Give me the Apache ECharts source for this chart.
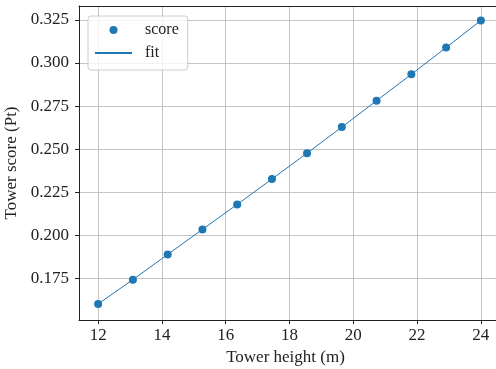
<!DOCTYPE html>
<html>
<head>
<meta charset="utf-8">
<title>tower score</title>
<script src="https://cdn.jsdelivr.net/npm/echarts@6/dist/echarts.min.js"></script>
<style>
  html, body { margin: 0; padding: 0; background: #fff; }
  #main { width: 496px; height: 369px; }
</style>
</head>
<body>
<div id="main"></div>
<script>
// tower heights (m) and scores
var heights = [12, 13.09, 14.18, 15.27, 16.36, 17.45, 18.55, 19.64, 20.73, 21.82, 22.91, 24];
var scores = [0.1603, 0.1744, 0.1890, 0.2035, 0.2180, 0.2327, 0.2477, 0.2628, 0.2781, 0.2934, 0.3089, 0.3246];
var fitValues = [0.1603, 0.1744, 0.1890, 0.2035, 0.2180, 0.2327, 0.2477, 0.2628, 0.2781, 0.2934, 0.3089, 0.3246];

var xTicks = [12, 14, 16, 18, 20, 22, 24];
var yTicks = [0.175, 0.200, 0.225, 0.250, 0.275, 0.300, 0.325];

var font = 'Liberation Serif';
var blue = '#1f77b4';

function pairs(xs, ys) {
  var out = [];
  for (var i = 0; i < xs.length; i++) out.push([xs[i], ys[i]]);
  return out;
}

var myChart = echarts.init(document.getElementById('main'));

var option = {
  animation: false,
  textStyle: { fontFamily: font },
  grid: {
    left: 79,
    right: -4,
    top: 6,
    bottom: 49,
    containLabel: false,
    outerBoundsMode: 'none'
  },
  legend: {
    orient: 'vertical',
    left: 88,
    top: 16,
    padding: [6, 9, 9, 6],
    itemWidth: 37,
    itemHeight: 8,
    itemGap: 7,
    backgroundColor: 'rgba(255,255,255,0.8)',
    borderColor: '#cccccc',
    borderWidth: 1,
    borderRadius: 3,
    textStyle: { fontFamily: font, fontSize: 16, lineHeight: 16, color: '#222', padding: [0, 0, 0, 8] },
    data: [
      { name: 'score', icon: 'circle' },
      { name: 'fit', itemStyle: { opacity: 0 } }
    ]
  },
  xAxis: [{
    type: 'value',
    min: 11.4,
    max: 24.6,
    name: 'Tower height (m)',
    nameLocation: 'middle',
    nameGap: 27,
    nameTextStyle: { fontFamily: font, fontSize: 17, color: '#222', padding: [0, 8, 0, 0] },
    axisLine: { show: true, lineStyle: { color: '#222', width: 1 } },
    axisTick: { show: true, customValues: xTicks, length: 4, inside: false, lineStyle: { color: '#222' } },
    axisLabel: { customValues: xTicks, fontFamily: font, fontSize: 17, color: '#222', margin: 7 },
    splitLine: { show: true, lineStyle: { color: '#c4c4c4', width: 1 } }
  }, {
    // top spine only
    type: 'value',
    position: 'top',
    min: 11.4,
    max: 24.6,
    axisLine: { show: true, lineStyle: { color: '#222', width: 1 } },
    axisTick: { show: false },
    axisLabel: { show: false },
    splitLine: { show: false }
  }],
  yAxis: {
    type: 'value',
    min: 0.151,
    max: 0.333,
    name: 'Tower score (Pt)',
    nameLocation: 'middle',
    nameGap: 51,
    nameTextStyle: { fontFamily: font, fontSize: 17, color: '#222' },
    axisLine: { show: true, lineStyle: { color: '#222', width: 1 } },
    axisTick: { show: true, customValues: yTicks, length: 4, inside: false, lineStyle: { color: '#222' } },
    axisLabel: {
      customValues: yTicks,
      fontFamily: font,
      fontSize: 17,
      color: '#222',
      margin: 10,
      formatter: function (v) { return v.toFixed(3); }
    },
    splitLine: { show: true, lineStyle: { color: '#c4c4c4', width: 1 } }
  },
  series: [
    {
      name: 'score',
      type: 'scatter',
      symbol: 'circle',
      symbolSize: 8,
      itemStyle: { color: blue, opacity: 1 },
      z: 2,
      data: pairs(heights, scores)
    },
    {
      name: 'fit',
      type: 'line',
      showSymbol: false,
      symbol: 'none',
      lineStyle: { color: blue, width: 1 },
      itemStyle: { color: blue },
      z: 3,
      data: pairs(heights, fitValues)
    }
  ]
};
myChart.setOption(option);
</script>
</body>
</html>
